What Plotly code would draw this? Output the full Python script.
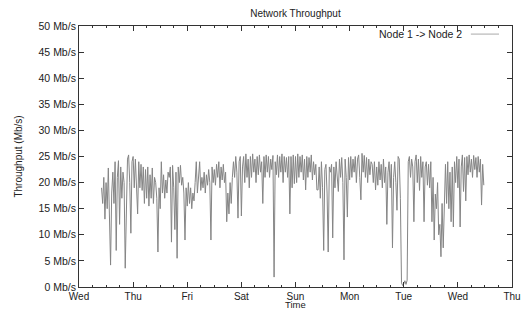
import pandas as pd
import plotly.graph_objects as go

# Throughput samples (Mb/s), one every 30 minutes starting Wed 10:00
start_time = "2008-01-02 10:00"
sample_minutes = 30
throughput = [
    19, 16, 21, 13, 20, 15, 22.8, 11, 4.2, 18, 22, 16,
    24, 7, 21, 24.2, 12, 23, 17, 22, 20, 3.6, 19, 24.5,
    25.3, 20, 10.3, 24, 25, 19, 24.5, 18, 14, 24, 19, 23.5,
    18.5, 23, 16, 22.5, 17, 23, 15.5, 21.5, 17, 22.8, 16, 21,
    20, 17, 6.7, 19, 15, 24, 18, 21.5, 17, 20.5, 18, 22,
    21, 23, 8.6, 23.3, 19, 11, 22, 5.5, 23, 20, 23.3, 19.5,
    21, 18, 9, 19, 15.5, 20, 16, 19, 15, 18, 16.5, 20,
    24, 18, 22, 24, 18.5, 21, 19, 22, 18, 21.5, 19.5, 22.5,
    20, 9, 23, 20, 22.5, 19.5, 23.5, 21, 24, 19, 23, 20.5,
    23.5, 20, 22, 12.5, 18, 14, 20, 16, 21, 24, 21, 25,
    22, 13.2, 24, 25, 13.6, 23, 25, 20, 25.5, 21, 24.5, 19,
    25, 21, 25.5, 22, 24.5, 20, 25, 21.5, 25.3, 22, 24, 16,
    25, 21, 25.3, 22, 25, 21, 24.5, 22.5, 25.2, 1.9, 24, 21.5,
    25.3, 21, 25, 22, 25.5, 20, 25, 22, 24.8, 21, 25, 14,
    25, 19, 25.3, 19.8, 25, 20, 25.5, 21, 25, 22, 25.3, 20.5,
    24.5, 18.6, 25, 21, 24.8, 22, 25.3, 20.5, 24, 21.5, 23.5, 18.6,
    18.6, 23, 17, 24, 19, 7, 22.5, 23.5, 18, 6.7, 23, 22,
    23.5, 9.4, 23, 19, 24, 20, 18.3, 24.5, 21, 24.8, 20, 5.2,
    24.5, 21, 13.4, 24.8, 20.5, 25, 21, 24.5, 22, 25, 20, 24.5,
    25.3, 21, 16.7, 25.6, 22, 25.2, 21, 24.8, 20, 24.5, 21.5, 24,
    23.5, 20, 24, 18.6, 23, 19.5, 24, 20.5, 23.5, 19, 24.5, 20,
    23, 12, 22, 24, 19, 23.5, 7.5, 21, 24, 20, 14.7, 25,
    24.5, 17, 0.8, 0.3, 0.6, 1.2, 0.5, 1.3, 24, 25, 21, 24.5,
    23, 12.5, 24, 25.3, 20, 24.5, 18.5, 25, 21, 24, 12.5, 23,
    24, 19.5, 23.5, 19, 24, 12.5, 21, 9, 17.8, 15, 20, 10,
    12, 5.8, 16, 7.5, 14, 23.5, 16, 24, 15, 22, 12.5, 23,
    11.5, 24, 20, 25, 19, 24.5, 11.5, 23, 25.3, 18.3, 24.8, 16.5,
    25, 21.5, 25.3, 22, 24.5, 21, 25.2, 22.5, 24.8, 21, 25, 22,
    24.5, 15.7, 23.5, 19.5,
]
series_name = "Node 1 -> Node 2"
x_range = ["2008-01-02", "2008-01-10"]
y_range = [0, 50]

times = pd.date_range(start_time, periods=len(throughput), freq=f"{sample_minutes}min")

font_family = "Liberation Sans, Arial, Helvetica, sans-serif"
line_color = "#858585"

fig = go.Figure()
fig.add_trace(go.Scatter(
    x=times, y=throughput, mode="lines", name=series_name,
    line=dict(color=line_color, width=1), showlegend=False,
))

fig.update_layout(
    width=526, height=311,
    margin=dict(l=79, r=14, t=26, b=24),
    paper_bgcolor="white", plot_bgcolor="white",
    font=dict(family=font_family, size=10, color="#222"),
    title=dict(text="Network Throughput", xref="paper", x=0.5, xanchor="center",
               y=0.958, yanchor="middle", font=dict(size=10, color="#222")),
    xaxis=dict(
        type="date", range=x_range, tickformat="%a",
        tick0="2008-01-02", dtick=86400000,
        ticks="inside", ticklen=5, tickcolor="#333",
        minor=dict(ticks="inside", dtick=6 * 3600 * 1000, ticklen=2, tickcolor="#333"),
        showline=True, linecolor="#333", linewidth=1, mirror="ticks",
        showgrid=False, zeroline=False, automargin=False,
        tickfont=dict(size=10),
    ),
    yaxis=dict(
        range=y_range, dtick=5, ticksuffix=" Mb/s",
        ticks="inside", ticklen=5, tickcolor="#333",
        showline=True, linecolor="#333", linewidth=1, mirror="ticks",
        showgrid=False, zeroline=False, automargin=False,
        tickfont=dict(size=10.5),
        title=dict(text="Throughput (Mb/s)", font=dict(size=10), standoff=14),
    ),
)

# x-axis title placed at the bottom edge, below the tick labels
fig.add_annotation(
    x=0.5, y=0, xref="paper", yref="paper", yshift=-24, borderpad=0,
    text="Time", showarrow=False, xanchor="center", yanchor="bottom",
    font=dict(size=9.5, color="#222"),
)

# gnuplot-style key: label then line sample on the right
fig.add_annotation(
    x=0.889, y=0.969, xref="paper", yref="paper",
    text=series_name, showarrow=False, xanchor="right", yanchor="middle",
    font=dict(size=10.5, color="#222"),
)
fig.add_shape(type="line", xref="paper", yref="paper",
              x0=0.905, x1=0.970, y0=0.969, y1=0.969,
              line=dict(color="#aaaaaa", width=1))

fig.write_html(
    "out.html",
    config={"displayModeBar": False},
    post_script="document.body.style.margin='0';document.body.style.overflow='hidden';",
)
